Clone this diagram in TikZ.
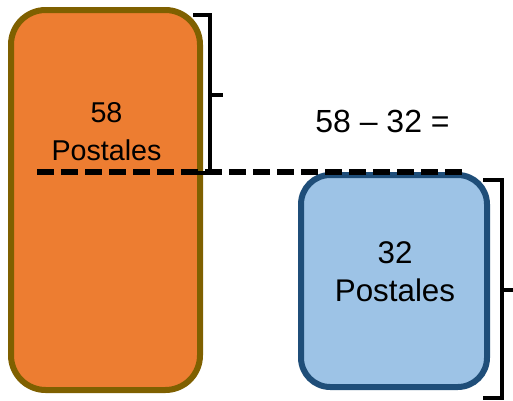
\documentclass[tikz,border=0pt]{standalone}
\usepackage{fontspec}
\setmainfont{Liberation Sans}
\definecolor{orfill}{HTML}{ED7D31}
\definecolor{ordraw}{HTML}{7F6000}
\definecolor{blfill}{HTML}{9DC3E6}
\definecolor{bldraw}{HTML}{1F4E79}
\begin{document}
\begin{tikzpicture}[x=0.75pt,y=-0.75pt,
  orbox/.style={draw=ordraw,fill=orfill,line width=4.5pt,rounded corners=26pt},
  blbox/.style={draw=bldraw,fill=blfill,line width=4.5pt,rounded corners=22pt},
  lbl/.style={font=\fontsize{21.5}{26}\selectfont,align=center,inner sep=0pt},
  lblb/.style={font=\fontsize{23.5}{28}\selectfont,align=center,inner sep=0pt},
  lble/.style={font=\fontsize{24}{29}\selectfont,align=center,inner sep=0pt},
  brace/.style={draw=black,line width=2.8pt},
  dashline/.style={draw=black,line width=4pt,dash pattern=on 12.75pt off 5.25pt}]
\useasboundingbox (0,0) rectangle (513,400);
\path[orbox] (11,10) rectangle (200,390);
\path[blbox] (301,175) rectangle (487,387);
\node[lbl] (t58) at (106.5,113) {58};
\node[lbl] (p58) at (106.5,150) {Postales};
\node[lble] (eq) at (382.5,121) {58 – 32 =};
\node[lblb] (t32) at (395,252.5) {32};
\node[lblb] (p32) at (395,290) {Postales};
\coordinate (dl) at (37,172);
\coordinate (dr) at (462,172);
\path[dashline] (dl) -- (dr);
\coordinate (b1t) at (193,15);
\coordinate (b1b) at (193,173);
\coordinate (b1m) at (223,95);
\path[brace] (b1t) -- (210,15) -- (210,173) -- (b1b);
\path[brace] (210,95) -- (b1m);
\coordinate (b2t) at (483,180);
\coordinate (b2b) at (483,398);
\coordinate (b2m) at (513,290);
\path[brace] (b2t) -- (502,180) -- (502,398) -- (b2b);
\path[brace] (502,290) -- (b2m);
\end{tikzpicture}
\end{document}
